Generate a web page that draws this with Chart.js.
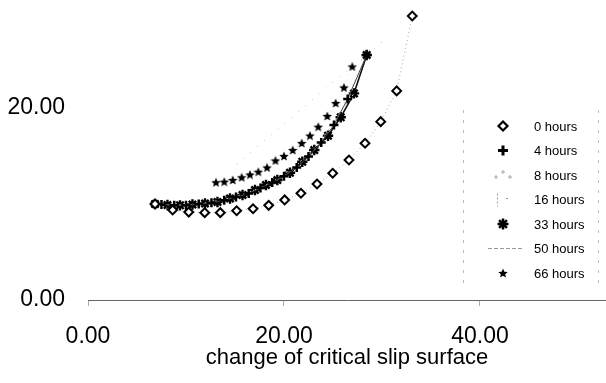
<!DOCTYPE html>
<html>
<head>
<meta charset="utf-8">
<script src="https://cdn.jsdelivr.net/npm/chart.js@4.4.1/dist/chart.umd.min.js"></script>
<style>
  html, body { margin: 0; padding: 0; background: #fff; }
  #wrap { width: 606px; height: 383px; position: relative; }
</style>
</head>
<body>
<div id="wrap"><canvas id="slipChart"></canvas></div>
<script>
/* ── data ── */
const seriesNames = ["0 hours", "4 hours", "8 hours", "16 hours", "33 hours", "50 hours", "66 hours"];
const xTicks = [0, 20, 40];
const yTicks = [0, 20];
const xTitle = "change of critical slip surface";

const h0X = [6.84, 8.64, 10.28, 11.91, 13.50, 15.17, 16.84, 18.44, 20.07, 21.73, 23.37, 24.97, 26.63, 28.27, 29.87, 31.50, 33.09];
const h0Y = [9.97, 9.35, 9.13, 9.07, 9.07, 9.27, 9.48, 9.83, 10.39, 11.08, 12.05, 13.16, 14.54, 16.27, 18.52, 21.71, 29.49];

const h4X = [6.84, 7.5, 8.8, 10.0, 11.3, 12.6, 13.9, 15.1, 16.4, 17.6, 18.8, 20.0, 21.3, 22.5, 23.8, 25.1, 26.5, 28.44];
const h4Y = [9.97, 9.92, 9.84, 9.84, 9.97, 10.09, 10.35, 10.69, 11.05, 11.63, 12.2, 12.84, 13.76, 14.9, 16.36, 18.17, 20.88, 25.44];

const h8X = [6.84, 10.0, 13.9, 17.6, 21.3, 25.1, 28.44];
const h8Y = [9.97, 9.84, 10.35, 11.63, 13.76, 18.17, 25.44];

const h16X = [6.84, 9.39, 11.94, 15.77, 19.32, 23.09, 27.14];
const h16Y = [9.97, 9.83, 10.02, 10.9, 12.46, 15.57, 21.45];

const h33X = [6.84, 8.11, 9.39, 10.66, 11.94, 13.21, 14.49, 15.77, 17.04, 18.16, 19.32, 20.61, 21.87, 23.09, 24.49, 25.79, 27.14, 28.44];
const h33Y = [9.97, 9.86, 9.83, 9.92, 10.02, 10.18, 10.54, 10.9, 11.42, 11.94, 12.46, 13.21, 14.36, 15.57, 17.06, 18.97, 21.45, 25.44];

const h50X = [15.17, 22.07, 24.8, 27.58, 30.3];
const h50Y = [14.09, 20.07, 22.5, 24.64, 27.07];

const h66X = [13.06, 13.91, 14.77, 15.68, 16.53, 17.38, 18.27, 19.13, 20.0, 20.89, 21.81, 22.65, 23.5, 24.42, 25.27, 26.12, 26.97];
const h66Y = [12.22, 12.29, 12.46, 12.74, 13.03, 13.32, 13.76, 14.49, 14.95, 15.57, 16.3, 17.08, 17.99, 19.11, 20.45, 22.07, 24.25];

const pts = (xs, ys) => xs.map((x, i) => ({ x, y: ys[i] }));

/* filled five-point star used for 66 hours */
function makeStar(size) {
  const c = document.createElement("canvas");
  c.width = c.height = size;
  const g = c.getContext("2d");
  const r = size / 2;
  g.beginPath();
  for (let i = 0; i < 10; i++) {
    const rr = i % 2 === 0 ? r : r * 0.45;
    const a = -Math.PI / 2 + (i * Math.PI) / 5;
    g.lineTo(r + rr * Math.cos(a), r + rr * Math.sin(a) + 0.5);
  }
  g.closePath();
  g.fillStyle = "#000";
  g.fill();
  return c;
}
const starImg = makeStar(10);

const FONT = "'Liberation Sans', Arial, sans-serif";

/* ── legend drawn into the plot, like the original ── */
const legendBox = {
  id: "legendBox",
  afterDraw(chart) {
    const ctx = chart.ctx;
    const sx = 503, tx = 534, y0 = 126, step = 24.5;
    ctx.save();

    // faint dashed frame sides
    ctx.strokeStyle = "#bbb";
    ctx.lineWidth = 1;
    ctx.setLineDash([3, 7]);
    ctx.beginPath();
    ctx.moveTo(463.5, 110); ctx.lineTo(463.5, 290);
    ctx.moveTo(598.5, 110); ctx.lineTo(598.5, 290);
    ctx.stroke();
    ctx.setLineDash([]);

    seriesNames.forEach((name, i) => {
      const y = y0 + i * step;
      ctx.strokeStyle = "#000";
      ctx.fillStyle = "#000";
      if (i === 0) {
        ctx.lineWidth = 2.2;
        ctx.beginPath();
        ctx.moveTo(sx, y - 4.5); ctx.lineTo(sx + 4.5, y);
        ctx.lineTo(sx, y + 4.5); ctx.lineTo(sx - 4.5, y);
        ctx.closePath();
        ctx.stroke();
      } else if (i === 1) {
        ctx.lineWidth = 3;
        ctx.beginPath();
        ctx.moveTo(sx - 5, y); ctx.lineTo(sx + 5, y);
        ctx.moveTo(sx, y - 5); ctx.lineTo(sx, y + 5);
        ctx.stroke();
      } else if (i === 2) {
        ctx.strokeStyle = "#aaa";
        ctx.lineWidth = 1;
        [[-7, 2], [0, -3], [7, 2]].forEach(([dx, dy]) => {
          ctx.beginPath();
          ctx.moveTo(sx + dx - 2, y + dy); ctx.lineTo(sx + dx + 2, y + dy);
          ctx.moveTo(sx + dx, y + dy - 2); ctx.lineTo(sx + dx, y + dy + 2);
          ctx.stroke();
        });
      } else if (i === 3) {
        ctx.strokeStyle = "#999";
        ctx.lineWidth = 1;
        ctx.setLineDash([2, 2]);
        ctx.beginPath();
        ctx.moveTo(sx - 5.5, y - 6); ctx.lineTo(sx - 5.5, y + 7);
        ctx.moveTo(sx + 3, y - 1); ctx.lineTo(sx + 6, y - 1);
        ctx.stroke();
        ctx.setLineDash([]);
      } else if (i === 4) {
        ctx.lineWidth = 2.5;
        ctx.beginPath();
        for (let k = 0; k < 4; k++) {
          const a = (k * Math.PI) / 4;
          ctx.moveTo(sx - 5.5 * Math.cos(a), y - 5.5 * Math.sin(a));
          ctx.lineTo(sx + 5.5 * Math.cos(a), y + 5.5 * Math.sin(a));
        }
        ctx.stroke();
      } else if (i === 5) {
        ctx.strokeStyle = "#999";
        ctx.lineWidth = 1;
        ctx.setLineDash([4, 2]);
        ctx.beginPath();
        ctx.moveTo(488, y); ctx.lineTo(522, y);
        ctx.stroke();
        ctx.setLineDash([]);
      } else {
        ctx.drawImage(starImg, sx - 5, y - 5);
      }
      ctx.fillStyle = "#000";
      ctx.font = "13px " + FONT;
      ctx.textAlign = "left";
      ctx.textBaseline = "middle";
      ctx.fillText(name, tx, y + 1);
    });
    ctx.restore();
  },
};

new Chart(document.getElementById("slipChart"), {
  type: "scatter",
  data: {
    datasets: [
      {
        label: seriesNames[0],
        data: pts(h0X, h0Y),
        showLine: true,
        borderColor: "#aaa",
        borderWidth: 1,
        borderDash: [1, 3],
        pointStyle: "rectRot",
        pointRadius: 4.4,
        pointBorderWidth: 2,
        pointBorderColor: "#000",
        pointBackgroundColor: "#fff",
      },
      {
        label: seriesNames[1],
        data: pts(h4X, h4Y),
        showLine: true,
        borderColor: "#444",
        borderWidth: 1,
        pointStyle: "cross",
        pointRadius: 4.5,
        pointBorderWidth: 2.5,
        pointBorderColor: "#000",
      },
      {
        label: seriesNames[2],
        data: pts(h8X, h8Y),
        showLine: true,
        borderColor: "#ccc",
        borderWidth: 1,
        borderDash: [1, 4],
        pointRadius: 0,
      },
      {
        label: seriesNames[3],
        data: pts(h16X, h16Y),
        showLine: true,
        borderColor: "#ccc",
        borderWidth: 1,
        borderDash: [2, 4],
        pointRadius: 0,
      },
      {
        label: seriesNames[4],
        data: pts(h33X, h33Y),
        showLine: true,
        borderColor: "#111",
        borderWidth: 1.6,
        pointStyle: "star",
        pointRadius: 5.2,
        pointBorderWidth: 2.4,
        pointBorderColor: "#000",
      },
      {
        label: seriesNames[5],
        data: pts(h50X, h50Y),
        showLine: true,
        borderColor: "#bbb",
        borderWidth: 1,
        borderDash: [1, 8],
        pointRadius: 0,
      },
      {
        label: seriesNames[6],
        data: pts(h66X, h66Y),
        showLine: true,
        borderColor: "#ddd",
        borderWidth: 1,
        borderDash: [1, 5],
        pointStyle: starImg,
        pointRadius: 5,
      },
    ],
  },
  options: {
    responsive: true,
    maintainAspectRatio: false,
    animation: false,
    layout: { padding: 0, autoPadding: false },
    clip: false,
    plugins: {
      legend: { display: false },
      tooltip: { enabled: false },
    },
    scales: {
      x: {
        type: "linear",
        min: 0,
        max: 52.86,
        afterBuildTicks: (s) => { s.ticks = xTicks.map((v) => ({ value: v })); },
        afterFit: (s) => {
          s.height = 83;
          s.paddingLeft = 0;
          s.paddingRight = 0;
        },
        grid: { display: true, drawOnChartArea: false, drawTicks: true, tickLength: 6, color: "#aaa" },
        border: { display: true, color: "#666", width: 1, dash: [10, 5] },
        ticks: {
          padding: 17,
          color: "#000",
          font: { family: FONT, size: 23 },
          maxRotation: 0,
          callback: (v) => Number(v).toFixed(2),
        },
        title: {
          display: true,
          text: xTitle,
          color: "#000",
          font: { family: FONT, size: 22 },
          padding: { top: 0, bottom: 12 },
        },
      },
      y: {
        type: "linear",
        min: 0,
        max: 31.15,
        afterBuildTicks: (s) => { s.ticks = yTicks.map((v) => ({ value: v })); },
        afterFit: (s) => {
          s.width = 88;
          s.paddingTop = 0;
          s.paddingBottom = 0;
        },
        grid: { display: false, drawTicks: false },
        border: { display: false },
        ticks: {
          padding: 23,
          color: "#000",
          font: { family: FONT, size: 23 },
          callback: (v) => Number(v).toFixed(2),
        },
      },
    },
  },
  plugins: [legendBox],
});
</script>
</body>
</html>
